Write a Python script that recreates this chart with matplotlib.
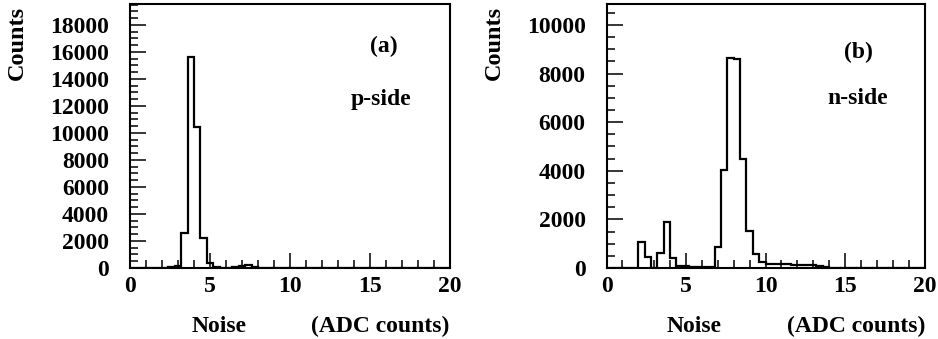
import numpy as np
import matplotlib
matplotlib.use("Agg")
import matplotlib.pyplot as plt
from matplotlib.ticker import MultipleLocator

# ---- data (50 bins of 0.4 ADC counts between 0 and 20) ----
x_min, x_max, n_bins = 0.0, 20.0, 50
p_side_counts = [0, 0, 0, 0, 0, 30, 100, 130, 2600, 15600,
                 10430, 2250, 350, 80, 20, 10, 60, 150, 200, 80,
                 20, 10, 0, 0, 0, 0, 0, 0, 0, 0,
                 0, 0, 0, 0, 0, 0, 0, 0, 0, 0,
                 0, 0, 0, 0, 0, 0, 0, 0, 0, 0]
n_side_counts = [0, 0, 0, 0, 0, 1090, 460, 20, 630, 1880,
                 420, 70, 100, 60, 40, 40, 60, 870, 4030, 8650,
                 8580, 4500, 1520, 570, 230, 170, 160, 150, 150, 140,
                 140, 120, 110, 80, 30, 10, 0, 0, 0, 0,
                 0, 0, 0, 0, 0, 0, 0, 0, 0, 0]
panel_tags = ["(a)", "(b)"]
side_labels = ["p-side", "n-side"]
y_tops = [19550, 10860]
y_major = [2000, 2000]
x_ticks = [0, 5, 10, 15, 20]
x_label_left = "Noise"
x_label_right = "(ADC counts)"
y_label = "Counts"

W, H = 938, 339
fig = plt.figure(figsize=(W / 100, H / 100), dpi=100)
FONT = "Liberation Serif"
FS = 17

def px(x, y):
    return x / W, 1 - y / H

axes_px = [(130, 4, 450, 268), (606.5, 4, 924.5, 268)]
edges = np.linspace(x_min, x_max, n_bins + 1)
data = [p_side_counts, n_side_counts]
ylabel_x = [17, 494]
noise_x = [219, 694]
adc_x = [380, 856]
tag_pos = [(384, 46), (858, 52)]
side_pos = [(381, 99), (858, 99)]

for i in range(2):
    l, t, r, b = axes_px[i]
    ax = fig.add_axes([l / W, 1 - b / H, (r - l) / W, (b - t) / H])
    ax.stairs(data[i], edges, color="black", linewidth=1.6, baseline=0)
    ax.set_xlim(x_min, x_max)
    ax.set_ylim(0, y_tops[i])
    ax.set_xticks(x_ticks)
    ax.xaxis.set_minor_locator(MultipleLocator(1))
    ax.yaxis.set_major_locator(MultipleLocator(y_major[i]))
    ax.yaxis.set_minor_locator(MultipleLocator(500))
    ax.tick_params(which="both", direction="in", top=False, right=False, width=1.1)
    ax.tick_params(axis="x", which="major", length=11, pad=6)
    ax.tick_params(axis="x", which="minor", length=5.5)
    ax.tick_params(axis="y", which="major", length=11.5, pad=15)
    ax.tick_params(axis="y", which="minor", length=6)
    for lab in ax.get_xticklabels() + ax.get_yticklabels():
        lab.set_fontfamily(FONT)
        lab.set_fontweight("bold")
        lab.set_fontsize(FS)
    for s in ax.spines.values():
        s.set_linewidth(1.5)
    fig.text(*px(ylabel_x[i], 43), y_label, rotation=90, ha="center", va="center",
             fontfamily=FONT, fontweight="bold", fontsize=17.5)
    fig.text(*px(noise_x[i], 326), x_label_left, ha="center", va="center",
             fontfamily=FONT, fontweight="bold", fontsize=FS)
    fig.text(*px(adc_x[i], 326), x_label_right, ha="center", va="center",
             fontfamily=FONT, fontweight="bold", fontsize=FS)
    fig.text(*px(*tag_pos[i]), panel_tags[i], ha="center", va="center",
             fontfamily=FONT, fontweight="bold", fontsize=FS)
    fig.text(*px(*side_pos[i]), side_labels[i], ha="center", va="center",
             fontfamily=FONT, fontweight="bold", fontsize=FS)

fig.savefig("out.png", dpi=100)
